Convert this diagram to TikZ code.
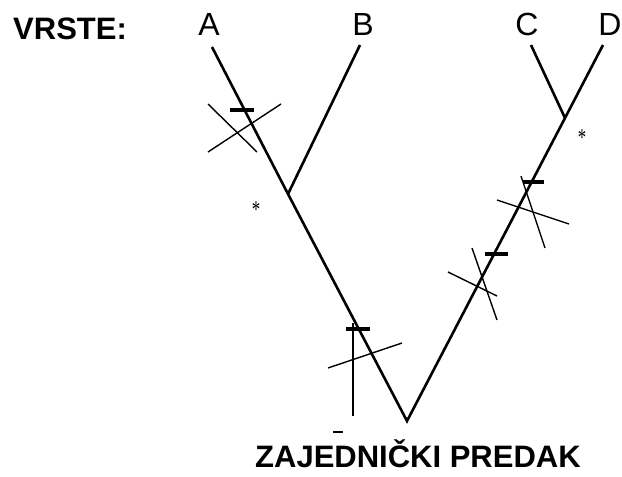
\documentclass[tikz,border=0pt]{standalone}
\usepackage{fontspec}
\setmainfont{Liberation Sans}
\newfontfamily\starfont{Liberation Serif}
\usetikzlibrary{positioning}

\begin{document}
\begin{tikzpicture}[x=1pt,y=-1pt,
    branch/.style={line width=2.6pt},
    cut/.style={line width=1.4pt},
    tick/.style={line width=3.4pt},
    taxon/.style={font=\fontsize{32}{38}\selectfont,inner sep=0pt,anchor=base},
    heading/.style={font=\fontsize{31}{37}\selectfont\bfseries,inner sep=0pt,anchor=base},
    star/.style={font=\starfont\fontsize{24}{28}\selectfont,inner sep=0pt,anchor=north,xscale=0.7}]
  \useasboundingbox (0,0) rectangle (622,477);
  % labels
  \node[heading,anchor=base west] (vrste) at (13,39) {VRSTE:};
  \foreach \n/\x in {A/209,B/363,C/527,D/610}{\node[taxon] (\n) at (\x,35) {\n};}
  \node[heading] (predak) at (418,467) {ZAJEDNIČKI PREDAK};
  % tree
  \coordinate (root) at (407,421);
  \coordinate (jAB) at (288,194); \coordinate (jCD) at (565,118);
  \coordinate (tA) at (212,47); \coordinate (tB) at (360,45);
  \coordinate (tC) at (531,45); \coordinate (tD) at (603,45);
  \draw[branch] (tA)--(jAB)--(root)--(jCD)--(tD);
  \draw[branch] (jAB)--(tB);
  \draw[branch] (jCD)--(tC);
  \node[star] (s1) at (256,202) {*};
  \node[star] (s2) at (582,130) {*};
  % changes on the branches
  \draw[tick] (230,110)--(254,110);
  \draw[cut] (208,104)--(257,152); \draw[cut] (208,152)--(281,104);
  \draw[tick] (346,329)--(370,329);
  \draw[cut] (353,323)--(353,416); \draw[cut] (328,368)--(402,343);
  \draw[line width=1.6pt] (333,432)--(343,432);
  \draw[tick] (523,182)--(544,182);
  \draw[cut] (521,176)--(545,248); \draw[cut] (497,200)--(569,224);
  \draw[tick] (485,254)--(508,254);
  \draw[cut] (472,248)--(497,320); \draw[cut] (448,272)--(497,296);
\end{tikzpicture}
\end{document}
